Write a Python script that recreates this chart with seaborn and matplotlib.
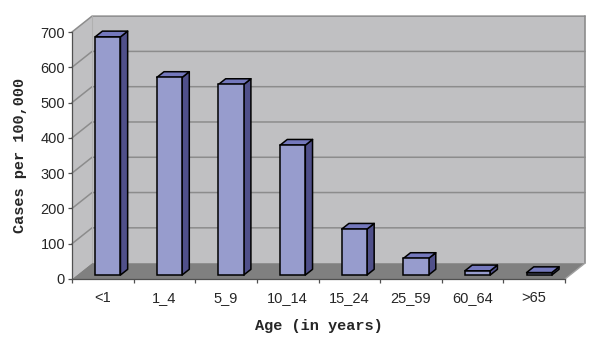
import matplotlib
matplotlib.use("Agg")
import matplotlib.pyplot as plt
from matplotlib.patches import Polygon
from matplotlib.ticker import FixedLocator
import seaborn as sns

categories = ["<1", "1_4", "5_9", "10_14", "15_24", "25_59", "60_64", ">65"]
cases = [675, 560, 540, 368, 130, 47, 12, 7]
y_ticks = [0, 100, 200, 300, 400, 500, 600, 700]
x_title = "Age (in years)"
y_title = "Cases per 100,000"

sns.set_style("white")
plt.rcParams["font.family"] = ["Liberation Sans", "DejaVu Sans"]

fig = plt.figure(figsize=(6, 3.45), dpi=100)
ax = fig.add_axes([72 / 600, (345 - 279) / 345, 493 / 600, 247 / 345])

# colours
front_c = "#979CCD"
side_c = "#50508A"
top_c = "#7478BC"
wall_c = "#C0C0C2"
floor_c = "#808080"
grid_c = "#8C8C8C"
axis_c = "#505050"

# pseudo-3D geometry (depth offsets)
DX = 0.325   # depth shift in category units
DY = 45      # depth shift in data units
F = 0.25     # depth at which the bar front faces sit
D = 0.36     # bar depth
BW = 0.41    # bar width

sns.barplot(x=categories, y=cases, ax=ax, color=front_c, saturation=1,
            width=BW, edgecolor="black", linewidth=1.1, zorder=3)
bars = list(ax.patches)

n = len(categories)
x0, x1 = -0.5, n - 0.5
ymax = y_ticks[-1]
ax.set_xlim(x0, x1)
ax.set_ylim(0, ymax)

# back wall
ax.add_patch(Polygon([(x0 + DX, DY), (x1 + DX, DY), (x1 + DX, ymax + DY), (x0 + DX, ymax + DY)],
                     closed=True, fc=wall_c, ec="none", zorder=0, clip_on=False))
# left wall
ax.add_patch(Polygon([(x0, 0), (x0 + DX, DY), (x0 + DX, ymax + DY), (x0, ymax)],
                     closed=True, fc=wall_c, ec="none", zorder=0, clip_on=False))
# floor
ax.add_patch(Polygon([(x0, 0), (x1, 0), (x1 + DX, DY), (x0 + DX, DY)],
                     closed=True, fc=floor_c, ec="none", zorder=1, clip_on=False))
ax.plot([x1, x1 + DX], [0, DY], color="#A0A0A0", lw=1, zorder=1.1, clip_on=False)
# gridlines on walls
for t in y_ticks[1:]:
    ax.plot([x0, x0 + DX, x1 + DX], [t, t + DY, t + DY], color=grid_c, lw=1.1,
            zorder=0.5, clip_on=False)
ax.plot([x1 + DX, x1 + DX], [DY, ymax + DY], color=grid_c, lw=1.2, zorder=0.5, clip_on=False)
ax.plot([x0 + DX, x0 + DX], [DY, ymax + DY], color="#B0B0B0", lw=0.8, zorder=0.5, clip_on=False)

# bars: shift front faces and add side/top faces
for p in bars:
    h = p.get_height()
    xl = p.get_x() + F * DX
    w = p.get_width()
    xr = xl + w
    yb = F * DY
    p.set_x(xl)
    p.set_y(yb)
    p.set_clip_on(False)
    side = Polygon([(xr, yb), (xr + D * DX, yb + D * DY), (xr + D * DX, h + yb + D * DY), (xr, h + yb)],
                   closed=True, fc=side_c, ec="black", lw=1.1, zorder=2.9, clip_on=False,
                   joinstyle="round")
    top = Polygon([(xl, h + yb), (xr, h + yb), (xr + D * DX, h + yb + D * DY), (xl + D * DX, h + yb + D * DY)],
                  closed=True, fc=top_c, ec="black", lw=1.1, zorder=2.9, clip_on=False,
                  joinstyle="round")
    ax.add_patch(side)
    ax.add_patch(top)

# axes styling
for s in ["top", "right"]:
    ax.spines[s].set_visible(False)
for s in ["left", "bottom"]:
    ax.spines[s].set_color(axis_c)
    ax.spines[s].set_linewidth(0.9)
    ax.spines[s].set_zorder(4)

ax.set_yticks(y_ticks)
ax.set_yticklabels([str(t) for t in y_ticks], fontsize=10.5)
ax.tick_params(axis="y", length=3, width=0.9, color=axis_c, pad=2, left=True)
ax.set_xticks(range(n))
ax.set_xticklabels(categories, fontsize=10.5)
ax.xaxis.set_minor_locator(FixedLocator([i - 0.5 for i in range(n + 1)]))
ax.tick_params(axis="x", which="major", length=0, pad=8.5, bottom=True)
ax.tick_params(axis="x", which="minor", length=3, width=0.9, color=axis_c, bottom=True)

mono = ["Liberation Mono", "DejaVu Sans Mono"]
ax.set_xlabel(x_title, fontfamily=mono, fontweight="bold", fontsize=11, va="center")
ax.xaxis.set_label_coords(0.5, -0.19)
ax.set_ylabel(y_title, fontfamily=mono, fontweight="bold", fontsize=11, va="center")
ax.yaxis.set_label_coords(-0.105, 0.5)

fig.savefig("out.png", dpi=100, facecolor="white")
